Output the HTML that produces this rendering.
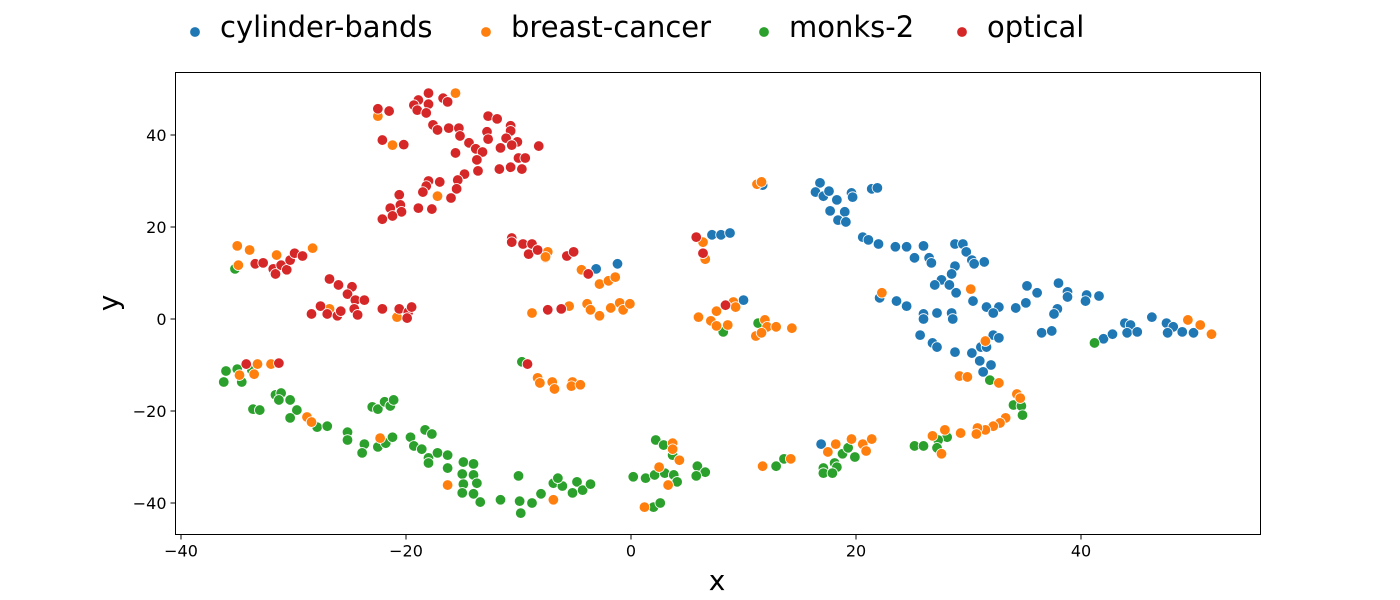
<!DOCTYPE html>
<html><head><meta charset="utf-8"><style>
html,body{margin:0;padding:0;background:#fff;}
svg{display:block;font-family:"DejaVu Sans","Liberation Sans",sans-serif;}
</style></head><body>
<svg id="chart" width="1400" height="600" viewBox="0 0 1400 600" xmlns="http://www.w3.org/2000/svg">
<g id="legend"></g>
<rect x="175.5" y="72.5" width="1085" height="462" fill="#fff" stroke="#000" stroke-width="1"/>
<g id="ticks"></g>
<g id="points"></g>
<text x="717" y="590" font-size="28" text-anchor="middle">x</text>
<text x="118" y="303" font-size="28" text-anchor="middle" transform="rotate(-90 118 303)">y</text>
</svg>
<script>
const seriesNames = ["cylinder-bands","breast-cancer","monks-2","optical"];
const seriesColors = ["#1f77b4","#ff7f0e","#2ca02c","#d62728"];
const xTicks = [-40,-20,0,20,40];
const yTicks = [-40,-20,0,20,40];
const bandsX = [11.7,7.2,8.0,8.8,10.0,-3.1,-1.2,16.8,16.4,17.1,17.6,18.3,19.6,19.7,21.4,21.9,17.7,19.0,18.4,19.1,20.6,21.1,22.0,23.5,24.5,26.0,25.2,26.5,26.7,28.8,29.5,29.8,30.3,31.4,30.5,28.8,28.5,27.6,27.0,28.3,28.9,30.4,22.1,23.6,24.5,26.0,27.2,28.5,28.6,26.0,31.6,32.7,32.2,34.2,35.1,35.2,36.1,38.0,38.8,38.8,40.5,41.6,40.4,37.9,37.6,36.5,37.4,25.7,26.8,27.2,28.8,30.3,31.1,32.2,32.7,31.6,31.0,32.0,31.3,42.0,42.8,43.9,44.4,44.1,45.0,46.3,47.6,48.2,47.7,49.0,50.0,16.9];
const bandsY = [29.1,18.3,18.3,18.7,4.1,10.9,12.0,29.6,27.6,26.7,27.8,25.9,27.4,26.5,28.3,28.5,23.5,23.3,21.5,21.1,17.8,17.2,16.3,15.7,15.7,15.9,13.3,13.3,12.2,16.3,16.3,14.6,12.8,12.4,12.0,11.5,9.8,8.5,7.4,7.4,5.7,3.9,4.6,3.9,2.8,1.1,1.3,1.3,0.0,0.0,2.6,2.6,1.3,2.4,3.5,7.2,5.7,7.8,5.9,4.8,5.2,5.0,3.9,2.2,1.1,-3.0,-2.6,-3.5,-5.2,-6.1,-7.2,-7.4,-6.1,-3.5,-4.1,-6.1,-9.1,-10.0,-11.5,-4.3,-3.3,-0.9,-1.3,-3.0,-2.8,0.4,-0.9,-1.7,-3.0,-2.8,-3.0,-27.2];
const cancerX = [-22.5,-21.2,-15.6,-17.2,-35.0,-33.9,-34.9,-31.5,-28.3,-26.8,-20.8,-7.6,-7.4,-4.4,-2.8,-2.0,-1.4,-8.8,-5.5,-3.9,-3.6,-2.8,-1.8,-1.0,-0.7,-0.1,11.2,11.6,6.4,6.6,9.1,9.3,7.6,6.0,7.1,7.6,8.6,11.9,12.1,12.9,14.3,11.1,11.6,-8.3,-8.1,-7.0,-6.8,-5.2,-5.3,-4.5,3.7,3.7,4.3,2.5,3.3,1.2,11.7,14.2,-6.9,-33.2,-33.5,-34.8,-32.0,-28.8,-28.4,-22.3,-16.3,30.2,22.3,31.5,32.7,29.2,29.9,49.5,50.6,51.6,34.3,34.6,33.3,32.8,32.2,31.5,30.8,30.7,29.3,27.9,26.8,27.6,18.2,17.5,19.6,20.6,21.4,20.9,-7.6];
const cancerY = [44.1,37.8,49.1,26.7,15.9,15.0,11.7,13.9,15.4,2.2,0.4,13.3,14.6,10.7,7.6,8.3,9.1,1.3,2.8,3.3,2.0,0.7,2.4,3.5,2.0,3.3,29.3,29.8,16.7,13.0,3.7,2.6,1.7,0.4,-0.4,-1.5,-1.3,-0.2,-1.7,-1.7,-2.0,-3.7,-3.0,-12.8,-13.9,-13.7,-15.2,-13.7,-14.6,-14.3,-27.0,-28.3,-30.7,-32.2,-36.1,-40.9,-32.0,-30.4,-39.3,-9.8,-12.0,-12.2,-9.8,-21.3,-22.4,-25.9,-36.1,6.5,5.7,-4.8,-13.9,-12.4,-12.6,-0.2,-1.3,-3.3,-16.3,-17.2,-21.5,-22.6,-23.3,-24.1,-23.7,-25.0,-24.8,-24.1,-25.4,-29.3,-27.2,-28.9,-26.1,-27.2,-26.1,-28.7,13.5];
const monksX = [-35.2,8.2,11.3,-9.7,2.2,2.9,3.7,0.2,1.3,2.1,3.0,3.8,4.1,5.9,6.6,5.8,2.0,2.6,12.9,13.6,-10.0,-11.6,-13.4,-9.9,-9.8,-8.8,-8.0,-6.9,-6.1,-6.5,-5.2,-4.8,-4.3,-3.6,-36.0,-36.2,-35.0,-34.6,-33.7,-33.6,-33.0,-31.6,-31.1,-31.3,-30.3,-29.7,-30.3,-27.9,-27.0,-25.2,-25.2,-23.7,-23.9,-22.5,-21.8,-21.2,-23.0,-22.5,-21.9,-21.4,-21.1,-19.6,-19.3,-18.6,-18.3,-17.7,-18.0,-18.0,-17.2,-16.3,-16.3,-14.9,-14.0,-15.0,-14.0,-13.7,-14.9,-15.0,-14.0,-13.4,-11.6,31.9,41.2,34.0,34.7,34.8,28.1,27.3,27.2,25.2,26.0,18.8,19.3,19.9,18.1,18.3,17.1,17.1,17.9];
const monksY = [10.9,-2.8,-0.9,-9.3,-26.3,-27.4,-29.6,-34.3,-34.6,-33.9,-33.5,-33.9,-35.4,-32.0,-33.3,-34.1,-40.9,-40.0,-32.0,-30.4,-34.1,-39.3,-39.8,-39.6,-42.2,-40.0,-38.0,-35.7,-36.3,-34.6,-37.8,-35.4,-37.2,-35.9,-11.3,-13.7,-10.9,-13.7,-11.1,-19.6,-19.8,-16.5,-16.1,-17.6,-17.6,-19.8,-21.5,-23.5,-23.3,-24.6,-26.3,-27.2,-29.1,-27.8,-27.0,-25.7,-19.1,-19.6,-18.0,-18.9,-17.6,-25.7,-27.6,-28.3,-24.1,-25.0,-30.2,-31.3,-29.1,-29.6,-32.4,-31.1,-31.5,-33.7,-33.9,-35.7,-35.9,-37.8,-38.0,-39.8,-39.3,-13.3,-5.2,-18.7,-18.9,-20.9,-25.7,-26.3,-28.0,-27.6,-27.6,-29.3,-28.0,-30.0,-31.3,-32.2,-32.4,-33.5,-33.5];
const opticalX = [-22.5,-21.5,-22.1,-20.2,-18.0,-18.9,-18.0,-19.3,-19.0,-18.2,-16.7,-16.3,-17.6,-17.2,-16.2,-15.3,-15.2,-12.7,-11.9,-10.7,-10.7,-12.8,-12.7,-11.1,-10.1,-14.4,-13.8,-13.2,-11.6,-10.6,-8.2,-15.6,-13.7,-10.0,-9.4,-10.7,-9.7,-11.7,-13.6,-14.8,-15.4,-15.5,-16.0,-18.0,-17.0,-18.2,-18.5,-20.6,-21.4,-20.5,-20.4,-21.2,-22.1,-18.9,-17.7,-33.4,-32.7,-31.8,-31.6,-31.1,-30.6,-30.3,-29.9,-29.2,-26.8,-26.0,-24.8,-25.2,-24.5,-23.7,-27.6,-28.4,-27.0,-26.1,-25.8,-24.6,-24.3,-22.1,-20.6,-19.8,-19.5,-19.9,-10.6,-10.6,-9.6,-8.8,-9.1,-8.3,-5.7,-5.1,-3.8,-7.4,-6.2,5.8,6.4,8.4,-9.2,-34.2,-31.3];
const opticalY = [45.7,45.2,38.9,37.9,49.1,47.6,46.7,46.5,45.4,44.8,48.0,47.2,42.2,41.1,41.5,41.5,39.8,44.1,43.5,42.0,40.9,40.7,39.1,39.3,38.5,38.3,37.0,36.3,37.2,37.8,37.6,36.1,34.6,35.0,35.0,33.0,32.6,32.6,32.2,31.5,30.2,28.3,26.3,30.0,29.8,28.9,27.6,27.0,24.1,24.8,23.3,22.4,21.7,24.1,23.9,12.0,12.2,10.9,9.8,11.7,10.7,12.8,14.3,13.7,8.7,7.4,7.0,5.4,4.1,4.1,2.8,1.1,1.1,0.7,1.7,2.2,0.9,2.2,2.2,1.5,2.6,0.2,17.6,16.7,16.3,16.3,14.1,15.0,13.7,14.6,9.8,2.0,2.2,17.8,14.3,3.0,-9.8,-9.8,-9.6];

const NS = "http://www.w3.org/2000/svg";
const L = 175.5, R = 1260.5, T = 72.5, B = 534.5;
function sx(v){ return 631 + (v) * 11.25; }
function sy(v){ return 319 - (v) * 4.6; }
const tg = document.getElementById('ticks');
xTicks.forEach(t => {
  const x = sx(t);
  const ln = document.createElementNS(NS,'line');
  ln.setAttribute('x1',x); ln.setAttribute('x2',x); ln.setAttribute('y1',B); ln.setAttribute('y2',B+5);
  ln.setAttribute('stroke','#000');
  
  
  tg.appendChild(ln);
  const tx = document.createElementNS(NS,'text');
  tx.setAttribute('x',x); tx.setAttribute('y',B+22); tx.setAttribute('font-size','16'); tx.setAttribute('text-anchor','middle');
  tx.textContent = t < 0 ? '\u2212' + Math.abs(t) : t;
  
  
  tg.appendChild(tx);
});
yTicks.forEach(t => {
  const y = sy(t);
  const ln = document.createElementNS(NS,'line');
  ln.setAttribute('x1',L-5); ln.setAttribute('x2',L); ln.setAttribute('y1',y); ln.setAttribute('y2',y);
  ln.setAttribute('stroke','#000');
  
  
  tg.appendChild(ln);
  const tx = document.createElementNS(NS,'text');
  tx.setAttribute('x',L-9); tx.setAttribute('y',y+6); tx.setAttribute('font-size','16'); tx.setAttribute('text-anchor','end');
  tx.textContent = t < 0 ? '\u2212' + Math.abs(t) : t;
  
  
  tg.appendChild(tx);
});
const pg = document.getElementById('points');
const allX = [bandsX, cancerX, monksX, opticalX];
const allY = [bandsY, cancerY, monksY, opticalY];
[0,2,1,3].forEach(s => {
  const xs = allX[s], ys = allY[s];
  for (let i = 0; i < xs.length; i++) {
    const c = document.createElementNS(NS,'circle');
    c.setAttribute('cx', sx(xs[i])); c.setAttribute('cy', sy(ys[i])); c.setAttribute('r', 5.3);
    c.setAttribute('fill', seriesColors[s]); c.setAttribute('stroke','#fff'); c.setAttribute('stroke-width','0.8');
    
    
    pg.appendChild(c);
  }
});
const lg = document.getElementById('legend');
const legTextX = [220, 511, 789, 987];
seriesNames.forEach((n,i) => {
  const c = document.createElementNS(NS,'circle');
  c.setAttribute('cx', legTextX[i] - 25); c.setAttribute('cy', 32); c.setAttribute('r', 5.3);
  c.setAttribute('fill', seriesColors[i]); c.setAttribute('stroke','#fff'); c.setAttribute('stroke-width','0.8');
  
  
  lg.appendChild(c);
  const t = document.createElementNS(NS,'text');
  t.setAttribute('x', legTextX[i]); t.setAttribute('y', 37); t.setAttribute('font-size','29');
  t.textContent = n;
  
  
  lg.appendChild(t);
});
</script>
</body></html>
